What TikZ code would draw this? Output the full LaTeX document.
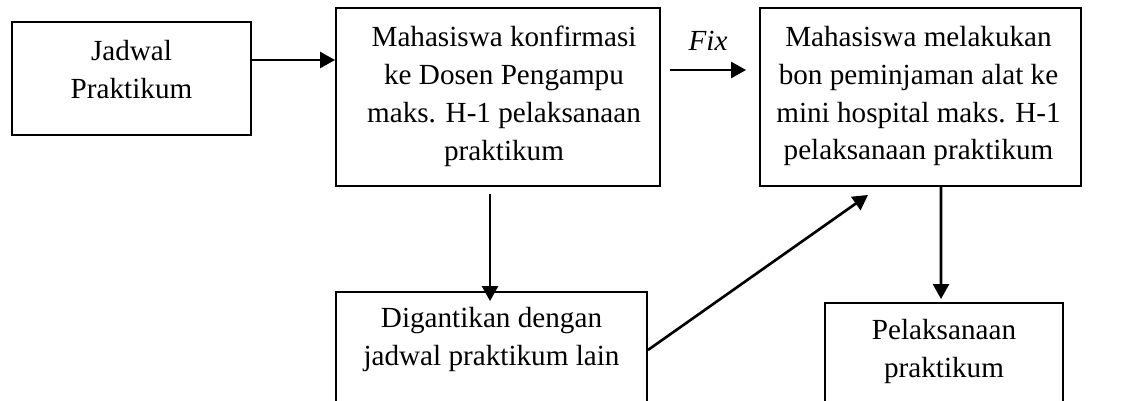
\documentclass[tikz,border=0pt]{standalone}
\usepackage{fontspec}
\setmainfont{Liberation Serif}
\usetikzlibrary{positioning,arrows.meta}

\begin{document}
\begin{tikzpicture}[x=0.02cm,y=-0.02cm,
	mybox/.style={draw,line width=1.1pt,inner sep=0pt},
	mytext/.style={inner sep=0pt,align=center,font=\fontsize{16.6}{21.5}\selectfont},
	myarrow/.style={line width=1.5pt,-{Triangle[length=0.3cm,width=0.32cm]}}
	]
	\useasboundingbox (0,0) rectangle (1145,400);

	% boxes
	\node[mybox,minimum width=4.78cm,minimum height=2.26cm] (jadwal) at (131.5,78.5) {};
	\node[mybox,minimum width=6.48cm,minimum height=3.56cm] (konfirmasi) at (498,97) {};
	\node[mybox,minimum width=6.42cm,minimum height=3.56cm] (bon) at (920.5,97) {};
	\node[mybox,minimum width=6.22cm,minimum height=2.56cm] (ganti) at (491.5,356) {};
	\node[mybox,minimum width=4.76cm,minimum height=2.34cm] (laksana) at (944,361.5) {};

	% texts
	\node[mytext,below=0.38cm of jadwal.north] (tjadwal) {Jadwal\\Praktikum};
	\node[mytext,below=0.38cm of konfirmasi.north,xshift=0.12cm] (tkonfirmasi)
		{Mahasiswa konfirmasi\\ke Dosen Pengampu\\maks. H-1 pelaksanaan\\praktikum};
	\node[mytext,below=0.38cm of bon.north,xshift=-0.04cm] (tbon)
		{Mahasiswa melakukan\\bon peminjaman alat ke\\mini hospital maks. H-1\\pelaksanaan praktikum};
	\node[mytext,below=0.32cm of ganti.north] (tganti) {Digantikan dengan\\jadwal praktikum lain};
	\node[mytext,below=0.34cm of laksana.north] (tlaksana) {Pelaksanaan\\praktikum};

	% arrows
	\draw[myarrow] ([shift={(0,-18.5)}]jadwal.east) -- ([shift={(0,-37)}]konfirmasi.west);
	\draw[myarrow] ([shift={(9,-27)}]konfirmasi.east) -- ([shift={(-13,-27)}]bon.west)
		node[midway,above=0.36cm,inner sep=0pt,font=\fontsize{16.6}{21.5}\selectfont\itshape] (fix) {Fix};
	\draw[myarrow] ([shift={(-8,7)}]konfirmasi.south) -- ([shift={(-1.5,10)}]ganti.north);
	\draw[myarrow] ([shift={(0,-6)}]ganti.east) -- ([shift={(-52.5,8)}]bon.south);
	\draw[myarrow] ([shift={(20.5,0)}]bon.south) -- ([shift={(-3,-3)}]laksana.north);

\end{tikzpicture}
\end{document}
